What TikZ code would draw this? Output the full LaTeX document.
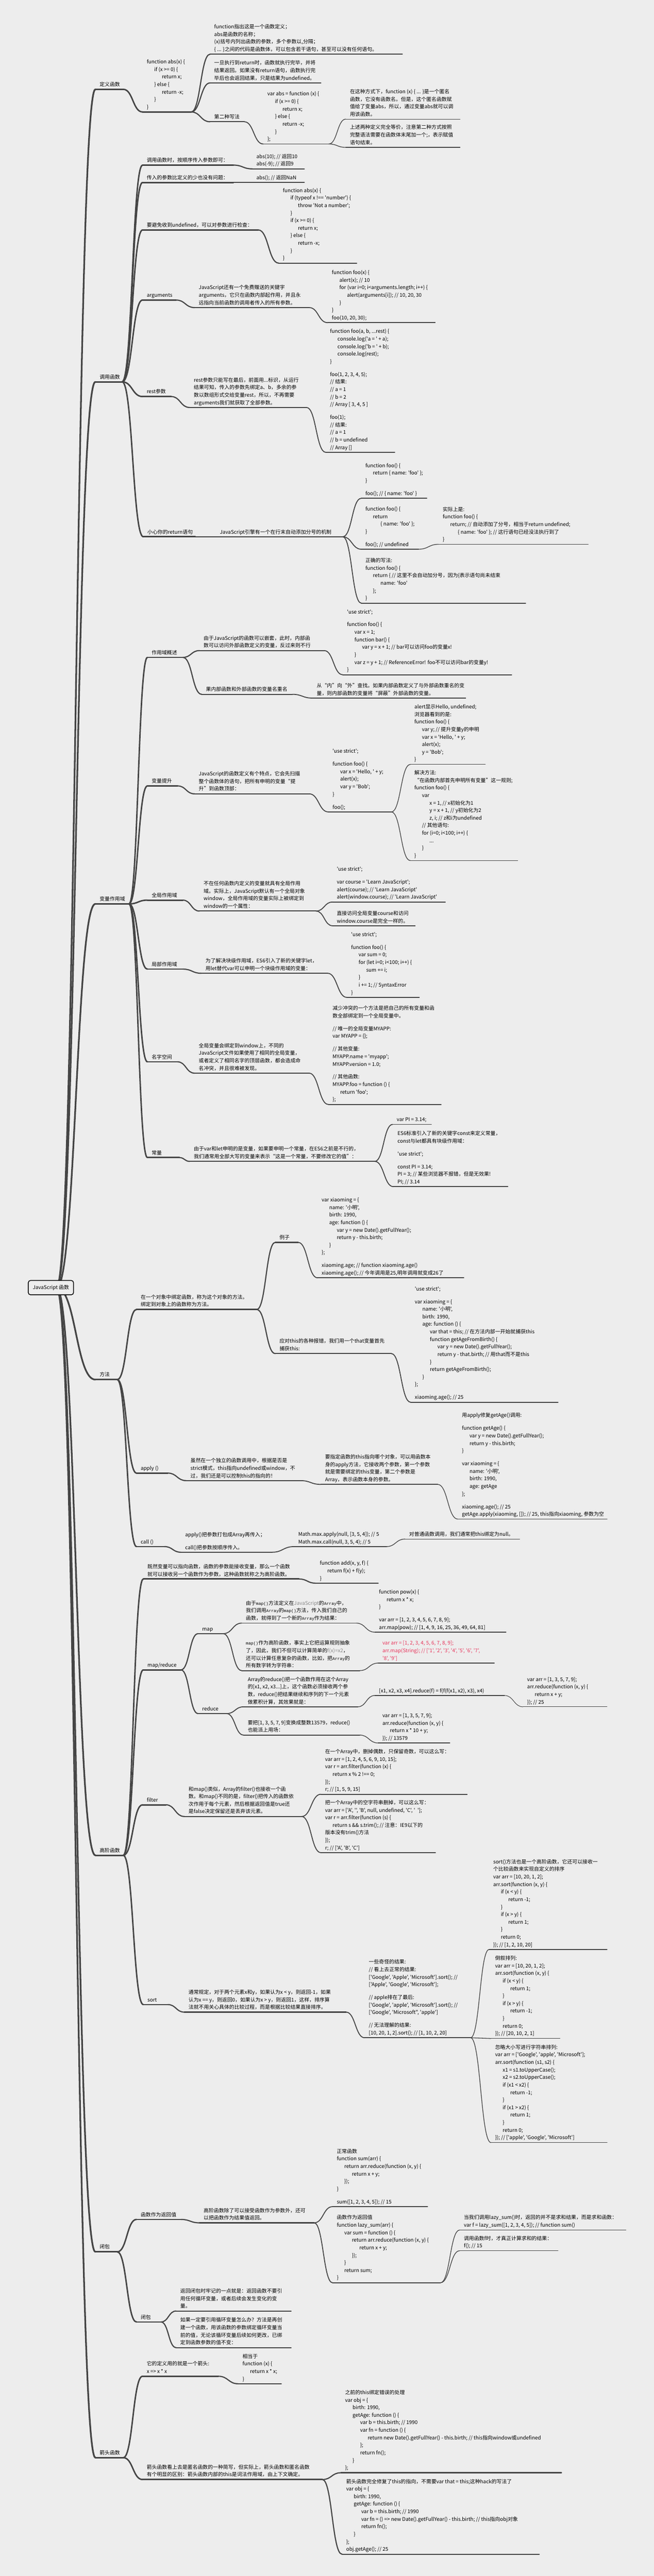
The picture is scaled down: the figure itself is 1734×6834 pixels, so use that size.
\documentclass[tikz,border=0pt]{standalone}
\usepackage{fontspec}
\usetikzlibrary{calc}
\newfontfamily\jsf{Noto Sans CJK SC}
\newfontfamily\monof{Liberation Mono}
\definecolor{bgc}{HTML}{EDEDED}
\definecolor{lnc}{HTML}{454545}
\definecolor{redc}{HTML}{E8335A}
\definecolor{grayc}{HTML}{8A8A8A}
\newcommand\ia{\hspace*{20pt}}
\newcommand\ib{\hspace*{40pt}}
\newcommand\ic{\hspace*{60pt}}
\newcommand\cm[1]{{\monof\fontsize{11pt}{20pt}\selectfont #1}}
\newcommand\gl{\\[14pt]}
\tikzset{
  txt/.style={anchor=base west, inner sep=0pt, align=left, text=black,
    font={\jsf\fontsize{13.5pt}{20pt}\selectfont}},
  lnbase/.style={draw=lnc, line cap=round, line join=round},
  l1/.style={lnbase, line width=4.5pt},
  l2/.style={lnbase, line width=3.8pt},
  l3/.style={lnbase, line width=3.0pt},
  l4/.style={lnbase, line width=2.4pt},
  l5/.style={lnbase, line width=1.8pt},
  l6/.style={lnbase, line width=1.4pt},
  rootbox/.style={draw=black, line width=2pt, rounded corners=6pt, fill=bgc,
    minimum width=120pt, minimum height=38pt, inner sep=0pt,
    font={\jsf\fontsize{13.5pt}{20pt}\selectfont}}
}
\newcommand\mmnode[7][]{%
  \coordinate (#2-s) at (#4,#6);
  \coordinate (#2-e) at (#5,#6);
  \draw[#3] (#2-s) -- (#2-e);
  \node[txt,#1] (#2) at (#4+11,#6-8) {#7};
}
\newcommand\mmconn[3]{%
  \draw[#1] (#2-e) .. controls ($(#2-e)!0.5!(#2-e -| #3-s)$) and ($(#3-s)!0.5!(#3-s -| #2-e)$) .. (#3-s);
}
\begin{document}
\begin{tikzpicture}[x=1pt,y=-1pt]
\fill[bgc] (0,0) rectangle (1734,6834);
\useasboundingbox (0,0) rectangle (1734,6834);
\coordinate (R-e) at (150,3416);

% ---------------- 定义函数
\mmnode{N1}{l1}{253}{327}{237}{定义函数}
\mmnode{N1a}{l2}{378}{507}{297}{function abs(x) \{\\\ia if (x >= 0) \{\\\ib return x;\\\ia \} else \{\\\ib return -x;\\\ia \}\\\}}
\mmnode{N1a1}{l3}{557}{1067}{144}{function指出这是一个函数定义；\\abs是函数的名称；\\(x)括号内列出函数的参数，多个参数以,分隔；\\\{ ... \}之间的代码是函数体，可以包含若干语句，甚至可以没有任何语句。}
\mmnode{N1a2}{l3}{557}{851}{220}{一旦执行到return时，函数就执行完毕，并将\\结果返回。如果没有return语句，函数执行完\\毕后也会返回结果，只是结果为undefined。}
\mmnode{N1a3}{l3}{557}{648}{323}{第二种写法}
\mmnode{N1a3a}{l4}{698}{872}{382}{var abs = function (x) \{\\\ia if (x >= 0) \{\\\ib return x;\\\ia \} else \{\\\ib return -x;\\\ia \}\\\};}
\mmnode{N1a3a1}{l5}{917}{1220}{316}{在这种方式下，function (x) \{ ... \}是一个匿名\\函数，它没有函数名。但是，这个匿名函数赋\\值给了变量abs，所以，通过变量abs就可以调\\用该函数。}
\mmnode{N1a3a2}{l5}{917}{1220}{391}{上述两种定义完全等价，注意第二种方式按照\\完整语法需要在函数体末尾加一个;，表示赋值\\语句结束。}

% ---------------- 调用函数
\mmnode{N2}{l1}{253}{324}{1013}{调用函数}
\mmnode{N2a}{l2}{378}{619}{438}{调用函数时，按顺序传入参数即可：}
\mmnode{N2a1}{l3}{669}{807}{448}{abs(10); // 返回10\\abs(-9); // 返回9}
\mmnode{N2b}{l2}{378}{619}{484}{传入的参数比定义的少也没有问题：}
\mmnode{N2b1}{l3}{669}{807}{484}{abs(); // 返回NaN}
\mmnode{N2c}{l2}{378}{685}{610}{要避免收到undefined，可以对参数进行检查：}
\mmnode{N2c1}{l3}{739}{946}{698}{function abs(x) \{\\\ia if (typeof x !== 'number') \{\\\ib throw 'Not a number';\\\ia \}\\\ia if (x >= 0) \{\\\ib return x;\\\ia \} else \{\\\ib return -x;\\\ia \}\\\}}
\mmnode{N2d}{l2}{378}{467}{796}{arguments}
\mmnode{N2d1}{l3}{516}{820}{816}{JavaScript还有一个免费赠送的关键字\\arguments，它只在函数内部起作用，并且永\\远指向当前函数的调用者传入的所有参数。}
\mmnode{N2d1a}{l4}{869}{1154}{856}{function foo(x) \{\\\ia alert(x); // 10\\\ia for (var i=0; i<arguments.length; i++) \{\\\ib alert(arguments[i]); // 10, 20, 30\\\ia \}\\\}\\foo(10, 20, 30);}
\mmnode{N2e}{l2}{378}{454}{1052}{rest参数}
\mmnode{N2e1}{l3}{503}{813}{1081}{rest参数只能写在最后，前面用...标识，从运行\\结果可知，传入的参数先绑定a、b，多余的参\\数以数组形式交给变量rest，所以，不再需要\\arguments我们就获取了全部参数。}
\mmnode{N2e1a}{l4}{864}{1047}{1200}{function foo(a, b, ...rest) \{\\\ia console.log('a = ' + a);\\\ia console.log('b = ' + b);\\\ia console.log(rest);\\\}\gl foo(1, 2, 3, 4, 5);\\// 结果:\\// a = 1\\// b = 2\\// Array [ 3, 4, 5 ]\gl foo(1);\\// 结果:\\// a = 1\\// b = undefined\\// Array []}
\mmnode{N2f}{l2}{380}{518}{1424}{小心你的return语句}
\mmnode{N2f1}{l3}{572}{909}{1424}{JavaScript引擎有一个在行末自动添加分号的机制}
\mmnode{N2f1a}{l4}{958}{1132}{1322}{function foo() \{\\\ia return \{ name: 'foo' \};\\\}\gl foo(); // \{ name: 'foo' \}}
\mmnode{N2f1b}{l4}{958}{1110}{1457}{function foo() \{\\\ia return\\\ib \{ name: 'foo' \};\\\}\gl foo(); // undefined}
\mmnode{N2f1b1}{l5}{1163}{1560}{1444}{实际上是:\\function foo() \{\\\ia return; // 自动添加了分号，相当于return undefined;\\\ib \{ name: 'foo' \}; // 这行语句已经没法执行到了\\\}}
\mmnode{N2f1c}{l4}{958}{1394}{1600}{正确的写法:\\function foo() \{\\\ia return \{ // 这里不会自动加分号，因为\{表示语句尚未结束\\\ib name: 'foo'\\\ia \};\\\}}

% ---------------- 变量作用域
\mmnode{N3}{l1}{253}{342}{2398}{变量作用域}
\mmnode{N3a}{l2}{391}{485}{1744}{作用域概述}
\mmnode{N3a1}{l3}{529}{860}{1726}{由于JavaScript的函数可以嵌套，此时，内部函\\数可以访问外部函数定义的变量，反过来则不行}
\mmnode{N3a1a}{l4}{909}{1357}{1790}{'use strict';\gl function foo() \{\\\ia var x = 1;\\\ia function bar() \{\\\ib var y = x + 1; // bar可以访问foo的变量x!\\\ia \}\\\ia var z = y + 1; // ReferenceError! foo不可以访问bar的变量y!\\\}}
\mmnode{N3a2}{l3}{535}{775}{1842}{果内部函数和外部函数的变量名重名}
\mmnode{N3a2a}{l4}{829}{1235}{1852}{从“内”向“外”查找。如果内部函数定义了与外部函数重名的变\\量，则内部函数的变量将“屏蔽”外部函数的变量。}
\mmnode{N3b}{l2}{391}{471}{2085}{变量提升}
\mmnode{N3b1}{l3}{516}{820}{2106}{JavaScript的函数定义有个特点，它会先扫描\\整个函数体的语句，把所有申明的变量“提\\升”到函数顶部：}
\mmnode{N3b1a}{l4}{871}{1038}{2154}{'use strict';\gl function foo() \{\\\ia var x = 'Hello, ' + y;\\\ia alert(x);\\\ia var y = 'Bob';\\\}\gl foo();}
\mmnode{N3b1a1}{l5}{1088}{1287}{2028}{alert显示Hello, undefined;\\浏览器看到的是:\\function foo() \{\\\ia var y; // 提升变量y的申明\\\ia var x = 'Hello, ' + y;\\\ia alert(x);\\\ia y = 'Bob';\\\}}
\mmnode{N3b1a2}{l5}{1088}{1373}{2283}{解决方法:\\“在函数内部首先申明所有变量”这一规则;\\function foo() \{\\\ia var\\\ib x = 1, // x初始化为1\\\ib y = x + 1, // y初始化为2\\\ib z, i; // z和i为undefined\\\ia // 其他语句:\\\ia for (i=0; i<100; i++) \{\\\ib ...\\\ia \}\\\}}
\mmnode{N3c}{l2}{391}{485}{2388}{全局作用域}
\mmnode{N3c1}{l3}{529}{838}{2417}{不在任何函数内定义的变量就具有全局作用\\域。实际上，JavaScript默认有一个全局对象\\window，全局作用域的变量实际上被绑定到\\window的一个属性：}
\mmnode{N3c1a}{l4}{882}{1181}{2393}{'use strict';\gl var course = 'Learn JavaScript';\\alert(course); // 'Learn JavaScript'\\alert(window.course); // 'Learn JavaScript'}
\mmnode{N3c1b}{l4}{882}{1101}{2456}{直接访问全局变量course和访问\\window.course是完全一样的。}
\mmnode{N3d}{l2}{391}{485}{2571}{局部作用域}
\mmnode{N3d1}{l3}{534}{869}{2582}{为了解决块级作用域，ES6引入了新的关键字let，\\用let替代var可以申明一个块级作用域的变量：}
\mmnode{N3d1a}{l4}{920}{1112}{2646}{'use strict';\gl function foo() \{\\\ia var sum = 0;\\\ia for (let i=0; i<100; i++) \{\\\ib sum += i;\\\ia \}\\\ia i += 1; // SyntaxError\\\}}
\mmnode{N3e}{l2}{391}{471}{2817}{名字空间}
\mmnode{N3e1}{l3}{516}{820}{2847}{全局变量会绑定到window上，不同的\\JavaScript文件如果使用了相同的全局变量，\\或者定义了相同名字的顶层函数，都会造成命\\名冲突，并且很难被发现。}
\mmnode{N3e1a}{l4}{871}{1170}{2930}{减少冲突的一个方法是把自己的所有变量和函\\数全部绑定到一个全局变量中。\gl // 唯一的全局变量MYAPP:\\var MYAPP = \{\};\gl // 其他变量:\\MYAPP.name = 'myapp';\\MYAPP.version = 1.0;\gl // 其他函数:\\MYAPP.foo = function () \{\\\ia return 'foo';\\\};}
\mmnode{N3f}{l2}{391}{476}{3071}{常量}
\mmnode{N3f1}{l3}{503}{994}{3081}{由于var和let申明的是变量，如果要申明一个常量，在ES6之前是不行的，\\我们通常用全部大写的变量来表示“这是一个常量，不要修改它的值”：}
\mmnode{N3f1a}{l4}{1041}{1144}{2983}{var PI = 3.14;}
\mmnode{N3f1b}{l4}{1043}{1347}{3148}{ES6标准引入了新的关键字const来定义常量，\\const与let都具有块级作用域：\gl 'use strict';\gl const PI = 3.14;\\PI = 3; // 某些浏览器不报错，但是无效果!\\PI; // 3.14}

% ---------------- 方法
\mmnode{N4}{l1}{253}{311}{3660}{方法}
\mmnode{N4a}{l2}{362}{681}{3474}{在一个对象中绑定函数，称为这个对象的方法。\\绑定到对象上的函数称为方法。}
\mmnode{N4a1}{l3}{730}{791}{3296}{例子}
\mmnode{N4a1a}{l4}{842}{1230}{3390}{var xiaoming = \{\\\ia name: '小明',\\\ia birth: 1990,\\\ia age: function () \{\\\ib var y = new Date().getFullYear();\\\ib return y - this.birth;\\\ia \}\\\};\gl xiaoming.age; // function xiaoming.age()\\xiaoming.age(); // 今年调用是25,明年调用就变成26了}
\mmnode{N4a2}{l3}{730}{1038}{3591}{应对this的各种报错，我们用一个that变量首先\\捕获this:}
\mmnode{N4a2a}{l4}{1089}{1480}{3720}{'use strict';\gl var xiaoming = \{\\\ia name: '小明',\\\ia birth: 1990,\\\ia age: function () \{\\\ib var that = this; // 在方法内部一开始就捕获this\\\ib function getAgeFromBirth() \{\\\ic var y = new Date().getFullYear();\\\ic return y - that.birth; // 用that而不是this\\\ib \}\\\ib return getAgeFromBirth();\\\ia \}\\\};\gl xiaoming.age(); // 25}
\mmnode{N4b}{l2}{362}{445}{3908}{apply ()}
\mmnode{N4b1}{l3}{494}{797}{3928}{虽然在一个独立的函数调用中，根据是否是\\strict模式，this指向undefined或window，不\\过，我们还是可以控制this的指向的！}
\mmnode{N4b1a}{l4}{851}{1161}{3938}{要指定函数的this指向哪个对象，可以用函数本\\身的apply方法，它接收两个参数，第一个参数\\就是需要绑定的this变量，第二个参数是\\Array，表示函数本身的参数。}
\mmnode{N4b1a1}{l5}{1214}{1610}{4030}{用apply修复getAge()调用:\gl function getAge() \{\\\ia var y = new Date().getFullYear();\\\ia return y - this.birth;\\\}\gl var xiaoming = \{\\\ia name: '小明',\\\ia birth: 1990,\\\ia age: getAge\\\};\gl xiaoming.age(); // 25\\getAge.apply(xiaoming, []); // 25, this指向xiaoming, 参数为空}
\mmnode{N4c}{l2}{362}{436}{4103}{call ()}
\mmnode{N4c1}{l3}{480}{721}{4118}{apply()把参数打包成Array再传入；\gl call()把参数按顺序传入。}
\mmnode{N4c1a}{l4}{780}{1025}{4103}{Math.max.apply(null, [3, 5, 4]); // 5\\Math.max.call(null, 3, 5, 4); // 5}
\mmnode{N4c1a1}{l5}{1074}{1378}{4083}{对普通函数调用，我们通常把this绑定为null。}

% ---------------- 高阶函数
\mmnode{N5}{l1}{253}{327}{4922}{高阶函数}
\mmnode{N5a}{l2}{380}{793}{4189}{既然变量可以指向函数，函数的参数能接收变量，那么一个函数\\就可以接收另一个函数作为参数，这种函数就称之为高阶函数。}
\mmnode{N5a1}{l3}{837}{1003}{4200}{function add(x, y, f) \{\\\ia return f(x) + f(y);\\\}}
\mmnode{N5b}{l2}{380}{480}{4430}{map/reduce}
\mmnode{N5b1}{l3}{525}{592}{4334}{map}
\mmnode{N5b1a}{l4}{641}{945}{4306}{由于\cm{map()}方法定义在\textcolor{grayc}{JavaScript}的\cm{Array}中，\\我们调用\cm{Array}的\cm{map()}方法，传入我们自己的\\函数，就得到了一个新的\cm{Array}作为结果：}
\mmnode{N5b1a1}{l5}{994}{1342}{4330}{function pow(x) \{\\\ia return x * x;\\\}\gl var arr = [1, 2, 3, 4, 5, 6, 7, 8, 9];\\arr.map(pow); // [1, 4, 9, 16, 25, 36, 49, 64, 81]}
\mmnode{N5b1b}{l4}{641}{954}{4432}{\cm{map()}作为高阶函数，事实上它把运算规则抽象\\了，因此，我们不但可以计算简单的\textcolor{grayc}{f(x)=x2}，\\还可以计算任意复杂的函数，比如，把\cm{Array}的\\所有数字转为字符串：}
\mmnode[text=redc]{N5b1b1}{l5}{1003}{1311}{4412}{var arr = [1, 2, 3, 4, 5, 6, 7, 8, 9];\\arr.map(String); // ['1', '2', '3', '4', '5', '6', '7',\\'8', '9']}
\mmnode{N5b2}{l3}{525}{601}{4546}{reduce}
\mmnode{N5b2a}{l4}{646}{949}{4528}{Array的reduce()把一个函数作用在这个Array\\的[x1, x2, x3...]上，这个函数必须接收两个参\\数，reduce()把结果继续和序列的下一个元素\\做累积计算，其效果就是：}
\mmnode{N5b2a1}{l5}{994}{1338}{4498}{[x1, x2, x3, x4].reduce(f) = f(f(f(x1, x2), x3), x4)}
\mmnode{N5b2a1a}{l6}{1387}{1610}{4528}{var arr = [1, 3, 5, 7, 9];\\arr.reduce(function (x, y) \{\\\ia return x + y;\\\}); // 25}
\mmnode{N5b2b}{l4}{646}{954}{4603}{要把[1, 3, 5, 7, 9]变换成整数13579，reduce()\\也能派上用场：}
\mmnode{N5b2b1}{l5}{1003}{1193}{4624}{var arr = [1, 3, 5, 7, 9];\\arr.reduce(function (x, y) \{\\\ia return x * 10 + y;\\\}); // 13579}
\mmnode{N5c}{l2}{378}{440}{4788}{filter}
\mmnode{N5c1}{l3}{489}{800}{4819}{和map()类似，Array的filter()也接收一个函\\数。和map()不同的是，filter()把传入的函数依\\次作用于每个元素，然后根据返回值是true还\\是false决定保留还是丢弃该元素。}
\mmnode{N5c1a}{l4}{851}{1239}{4760}{在一个Array中，删掉偶数，只保留奇数，可以这么写：\\var arr = [1, 2, 4, 5, 6, 9, 10, 15];\\var r = arr.filter(function (x) \{\\\ia return x \% 2 !== 0;\\\});\\r; // [1, 5, 9, 15]}
\mmnode{N5c1b}{l4}{851}{1155}{4915}{把一个Array中的空字符串删掉，可以这么写：\\var arr = ['A', '', 'B', null, undefined, 'C', '\ \ '];\\var r = arr.filter(function (s) \{\\\ia return s \&\& s.trim(); // 注意：IE9以下的\\版本没有trim()方法\\\});\\r; // ['A', 'B', 'C']}
\mmnode{N5d}{l2}{380}{445}{5318}{sort}
\mmnode{N5d1}{l3}{489}{918}{5338}{通常规定，对于两个元素x和y，如果认为x < y，则返回-1，如果\\认为x == y，则返回0，如果认为x > y，则返回1，这样，排序算\\法就不用关心具体的比较过程，而是根据比较结果直接排序。}
\mmnode{N5d1a}{l4}{967}{1248}{5406}{一些奇怪的结果:\\// 看上去正常的结果:\\\relax['Google', 'Apple', 'Microsoft'].sort(); //\\\relax['Apple', 'Google', 'Microsoft'];\gl // apple排在了最后:\\\relax['Google', 'apple', 'Microsoft'].sort(); //\\\relax['Google', 'Microsoft", 'apple']\gl // 无法理解的结果:\\\relax[10, 20, 1, 2].sort(); // [1, 10, 2, 20]}
\mmnode{N5d1a1}{l5}{1297}{1610}{5172}{sort()方法也是一个高阶函数，它还可以接收一\\个比较函数来实现自定义的排序\\var arr = [10, 20, 1, 2];\\arr.sort(function (x, y) \{\\\ia if (x < y) \{\\\ib return -1;\\\ia \}\\\ia if (x > y) \{\\\ib return 1;\\\ia \}\\\ia return 0;\\\}); // [1, 2, 10, 20]}
\mmnode{N5d1a2}{l5}{1302}{1485}{5408}{倒叙排列:\\var arr = [10, 20, 1, 2];\\arr.sort(function (x, y) \{\\\ia if (x < y) \{\\\ib return 1;\\\ia \}\\\ia if (x > y) \{\\\ib return -1;\\\ia \}\\\ia return 0;\\\}); // [20, 10, 2, 1]}
\mmnode{N5d1a3}{l5}{1302}{1610}{5684}{忽略大小写进行字符串排列:\\var arr = ['Google', 'apple', 'Microsoft'];\\arr.sort(function (s1, s2) \{\\\ia x1 = s1.toUpperCase();\\\ia x2 = s2.toUpperCase();\\\ia if (x1 < x2) \{\\\ib return -1;\\\ia \}\\\ia if (x1 > x2) \{\\\ib return 1;\\\ia \}\\\ia return 0;\\\}); // ['apple', 'Google', 'Microsoft']}

% ---------------- 闭包
\mmnode{N6}{l1}{253}{311}{5974}{闭包}
\mmnode{N6a}{l2}{362}{480}{5888}{函数作为返回值}
\mmnode{N6a1}{l3}{529}{833}{5897}{高阶函数除了可以接受函数作为参数外，还可\\以把函数作为结果值返回。}
\mmnode{N6a1a}{l4}{882}{1134}{5854}{正常函数\\function sum(arr) \{\\\ia return arr.reduce(function (x, y) \{\\\ib return x + y;\\\ia \});\\\}\gl sum([1, 2, 3, 4, 5]); // 15}
\mmnode{N6a1b}{l4}{882}{1168}{6056}{函数作为返回值\\function lazy\_sum(arr) \{\\\ia var sum = function () \{\\\ib return arr.reduce(function (x, y) \{\\\ic return x + y;\\\ib \});\\\ia \}\\\ia return sum;\\\}}
\mmnode{N6a1b1}{l5}{1219}{1660}{5916}{当我们调用lazy\_sum()时，返回的并不是求和结果，而是求和函数：\\var f = lazy\_sum([1, 2, 3, 4, 5]); // function sum()}
\mmnode{N6a1b2}{l5}{1219}{1480}{5971}{调用函数f时，才真正计算求和的结果：\\f(); // 15}
\mmnode{N6b}{l2}{362}{427}{6160}{闭包}
\mmnode{N6b1}{l3}{467}{772}{6131}{返回闭包时牢记的一点就是：返回函数不要引\\用任何循环变量，或者后续会发生变化的变\\量。}
\mmnode{N6b2}{l3}{467}{772}{6228}{如果一定要引用循环变量怎么办？方法是再创\\建一个函数，用该函数的参数绑定循环变量当\\前的值，无论该循环变量后续如何更改，已绑\\定到函数参数的值不变：}

% ---------------- 箭头函数
\mmnode{N7}{l1}{253}{327}{6520}{箭头函数}
\mmnode{N7a}{l2}{378}{579}{6304}{它的定义用的就是一个箭头:\\x => x * x}
\mmnode{N7a1}{l3}{632}{746}{6324}{相当于\\function (x) \{\\\ia return x * x;\\\}}
\mmnode{N7b}{l2}{378}{855}{6578}{箭头函数看上去是匿名函数的一种简写，但实际上，箭头函数和匿名函数\\有个明显的区别：箭头函数内部的this是词法作用域，由上下文确定。}
\mmnode{N7b1}{l3}{904}{1489}{6560}{之前的this绑定错误的处理\\var obj = \{\\\ia birth: 1990,\\\ia getAge: function () \{\\\ib var b = this.birth; // 1990\\\ib var fn = function () \{\\\ic return new Date().getFullYear() - this.birth; // this指向window或undefined\\\ib \};\\\ib return fn();\\\ia \}\\\};}
\mmnode{N7b2}{l3}{907}{1430}{6776}{箭头函数完全修复了this的指向，不需要var that = this;这种hack的写法了\\var obj = \{\\\ia birth: 1990,\\\ia getAge: function () \{\\\ib var b = this.birth; // 1990\\\ib var fn = () => new Date().getFullYear() - this.birth; // this指向obj对象\\\ib return fn();\\\ia \}\\\};\\obj.getAge(); // 25}

% ---------------- connectors
\mmconn{l1}{R}{N1}\mmconn{l1}{R}{N2}\mmconn{l1}{R}{N3}\mmconn{l1}{R}{N4}
\mmconn{l1}{R}{N5}\mmconn{l1}{R}{N6}\mmconn{l1}{R}{N7}

\mmconn{l2}{N1}{N1a}
\mmconn{l3}{N1a}{N1a1}\mmconn{l3}{N1a}{N1a2}\mmconn{l3}{N1a}{N1a3}
\mmconn{l4}{N1a3}{N1a3a}
\mmconn{l5}{N1a3a}{N1a3a1}\mmconn{l5}{N1a3a}{N1a3a2}

\mmconn{l2}{N2}{N2a}\mmconn{l2}{N2}{N2b}\mmconn{l2}{N2}{N2c}
\mmconn{l2}{N2}{N2d}\mmconn{l2}{N2}{N2e}\mmconn{l2}{N2}{N2f}
\mmconn{l3}{N2a}{N2a1}\mmconn{l3}{N2b}{N2b1}\mmconn{l3}{N2c}{N2c1}
\mmconn{l3}{N2d}{N2d1}\mmconn{l3}{N2e}{N2e1}\mmconn{l3}{N2f}{N2f1}
\mmconn{l4}{N2d1}{N2d1a}\mmconn{l4}{N2e1}{N2e1a}
\mmconn{l4}{N2f1}{N2f1a}\mmconn{l4}{N2f1}{N2f1b}\mmconn{l4}{N2f1}{N2f1c}
\mmconn{l5}{N2f1b}{N2f1b1}

\mmconn{l2}{N3}{N3a}\mmconn{l2}{N3}{N3b}\mmconn{l2}{N3}{N3c}
\mmconn{l2}{N3}{N3d}\mmconn{l2}{N3}{N3e}\mmconn{l2}{N3}{N3f}
\mmconn{l3}{N3a}{N3a1}\mmconn{l3}{N3a}{N3a2}
\mmconn{l4}{N3a1}{N3a1a}\mmconn{l4}{N3a2}{N3a2a}
\mmconn{l3}{N3b}{N3b1}\mmconn{l4}{N3b1}{N3b1a}
\mmconn{l5}{N3b1a}{N3b1a1}\mmconn{l5}{N3b1a}{N3b1a2}
\mmconn{l3}{N3c}{N3c1}\mmconn{l4}{N3c1}{N3c1a}\mmconn{l4}{N3c1}{N3c1b}
\mmconn{l3}{N3d}{N3d1}\mmconn{l4}{N3d1}{N3d1a}
\mmconn{l3}{N3e}{N3e1}\mmconn{l4}{N3e1}{N3e1a}
\mmconn{l3}{N3f}{N3f1}\mmconn{l4}{N3f1}{N3f1a}\mmconn{l4}{N3f1}{N3f1b}

\mmconn{l2}{N4}{N4a}\mmconn{l2}{N4}{N4b}\mmconn{l2}{N4}{N4c}
\mmconn{l3}{N4a}{N4a1}\mmconn{l3}{N4a}{N4a2}
\mmconn{l4}{N4a1}{N4a1a}\mmconn{l4}{N4a2}{N4a2a}
\mmconn{l3}{N4b}{N4b1}\mmconn{l4}{N4b1}{N4b1a}\mmconn{l5}{N4b1a}{N4b1a1}
\mmconn{l3}{N4c}{N4c1}\mmconn{l4}{N4c1}{N4c1a}\mmconn{l5}{N4c1a}{N4c1a1}

\mmconn{l2}{N5}{N5a}\mmconn{l2}{N5}{N5b}\mmconn{l2}{N5}{N5c}\mmconn{l2}{N5}{N5d}
\mmconn{l3}{N5a}{N5a1}
\mmconn{l3}{N5b}{N5b1}\mmconn{l3}{N5b}{N5b2}
\mmconn{l4}{N5b1}{N5b1a}\mmconn{l4}{N5b1}{N5b1b}
\mmconn{l5}{N5b1a}{N5b1a1}\mmconn{l5}{N5b1b}{N5b1b1}
\mmconn{l4}{N5b2}{N5b2a}\mmconn{l4}{N5b2}{N5b2b}
\mmconn{l5}{N5b2a}{N5b2a1}\mmconn{l6}{N5b2a1}{N5b2a1a}\mmconn{l5}{N5b2b}{N5b2b1}
\mmconn{l3}{N5c}{N5c1}\mmconn{l4}{N5c1}{N5c1a}\mmconn{l4}{N5c1}{N5c1b}
\mmconn{l3}{N5d}{N5d1}\mmconn{l4}{N5d1}{N5d1a}
\mmconn{l5}{N5d1a}{N5d1a1}\mmconn{l5}{N5d1a}{N5d1a2}\mmconn{l5}{N5d1a}{N5d1a3}

\mmconn{l2}{N6}{N6a}\mmconn{l2}{N6}{N6b}
\mmconn{l3}{N6a}{N6a1}\mmconn{l4}{N6a1}{N6a1a}\mmconn{l4}{N6a1}{N6a1b}
\mmconn{l5}{N6a1b}{N6a1b1}\mmconn{l5}{N6a1b}{N6a1b2}
\mmconn{l3}{N6b}{N6b1}\mmconn{l3}{N6b}{N6b2}

\mmconn{l2}{N7}{N7a}\mmconn{l2}{N7}{N7b}
\mmconn{l3}{N7a}{N7a1}\mmconn{l3}{N7b}{N7b1}\mmconn{l3}{N7b}{N7b2}

% ---------------- root
\node[rootbox] (root) at (135,3416) {JavaScript 函数};
\end{tikzpicture}
\end{document}
